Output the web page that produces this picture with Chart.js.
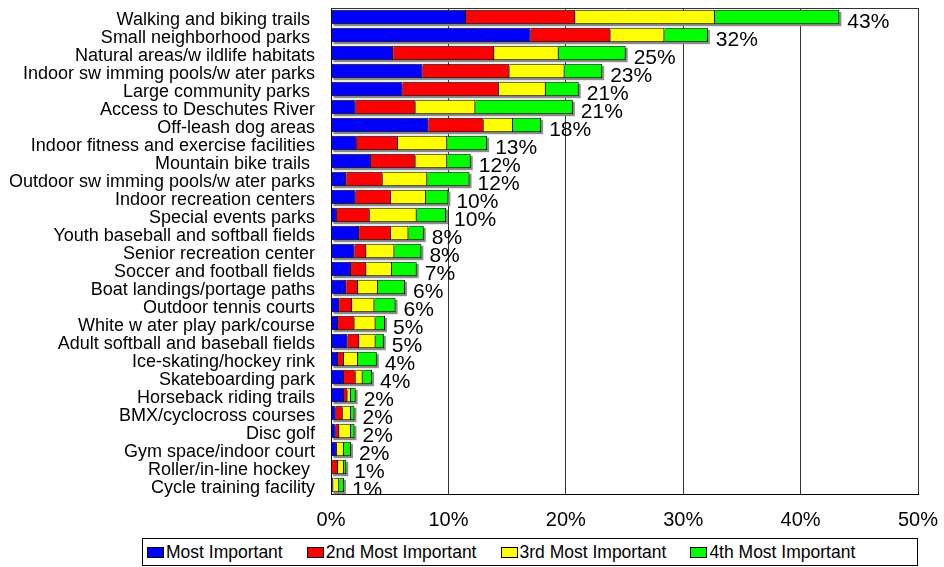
<!DOCTYPE html>
<html>
<head>
<meta charset="utf-8">
<title>Most important facilities</title>
<script src="https://cdn.jsdelivr.net/npm/chart.js@4.4.1/dist/chart.umd.min.js"></script>
<style>
    body { margin: 0; background: #fff; }
    #wrap { position: relative; width: 944px; height: 567px; }
    #legend {
        position: absolute; left: 142px; top: 538px; width: 776px; height: 28px;
        box-sizing: border-box; border: 1px solid #000; background: #fff;
        display: flex; align-items: center; padding-left: 4px;
        font-family: 'Liberation Sans', Arial, sans-serif; font-size: 17.5px; color: #000;
    }
    #legend .item { display: flex; align-items: center; margin-right: 24px; }
    #legend .sw { width: 15px; height: 9px; border: 1px solid #000; margin-right: 2px; }
</style>
</head>
<body>
<div id="wrap">
    <canvas id="chart" width="944" height="567"></canvas>
    <div id="legend"></div>
</div>
<script>
// categories, top to bottom
const categories = [
    'Walking and biking trails ',
    'Small neighborhood parks ',
    'Natural areas/w ildlife habitats',
    'Indoor sw imming pools/w ater parks',
    'Large community parks ',
    'Access to Deschutes River',
    'Off-leash dog areas',
    'Indoor fitness and exercise facilities',
    'Mountain bike trails ',
    'Outdoor sw imming pools/w ater parks',
    'Indoor recreation centers',
    'Special events parks',
    'Youth baseball and softball fields',
    'Senior recreation center',
    'Soccer and football fields',
    'Boat landings/portage paths',
    'Outdoor tennis courts',
    'White w ater play park/course',
    'Adult softball and baseball fields',
    'Ice-skating/hockey rink',
    'Skateboarding park',
    'Horseback riding trails',
    'BMX/cyclocross courses',
    'Disc golf',
    'Gym space/indoor court',
    'Roller/in-line hockey ',
    'Cycle training facility'
];

// percent of respondents
const mostImportant   = [11.5, 17.0, 5.3, 7.8, 6.1, 2.1, 8.3, 2.2, 3.4, 1.3, 2.1, 0.5, 2.4, 2.0, 1.7, 1.3, 0.7, 0.6, 1.4, 0.6, 1.1, 1.1, 0.4, 0.4, 0.5, 0.0, 0.2];
const secondImportant = [9.3, 6.8, 8.6, 7.4, 8.2, 5.1, 4.7, 3.5, 3.8, 3.1, 3.0, 2.8, 2.7, 1.0, 1.3, 1.0, 1.1, 1.4, 1.0, 0.5, 1.0, 0.3, 0.6, 0.3, 0.0, 0.6, 0.0];
const thirdImportant  = [11.9, 4.6, 5.5, 4.7, 4.0, 5.1, 2.5, 4.2, 2.7, 3.8, 3.0, 4.0, 1.5, 2.4, 2.2, 1.7, 1.9, 1.8, 1.4, 1.2, 0.6, 0.3, 0.7, 1.0, 0.6, 0.5, 0.5];
const fourthImportant = [10.6, 3.7, 5.7, 3.2, 2.8, 8.3, 2.4, 3.4, 2.0, 3.6, 1.9, 2.5, 1.3, 2.3, 2.1, 2.3, 1.8, 0.8, 0.7, 1.6, 0.8, 0.4, 0.3, 0.3, 0.6, 0.2, 0.4];

// total labels printed at the end of each bar
const totals = [43, 32, 25, 23, 21, 21, 18, 13, 12, 12, 10, 10, 8, 8, 7, 6, 6, 5, 5, 4, 4, 2, 2, 2, 2, 1, 1];

const xTicks = [0, 10, 20, 30, 40, 50];

const seriesNames = ['Most Important', '2nd Most Important', '3rd Most Important', '4th Most Important'];
const seriesColors = ['#0000ff', '#ff0000', '#ffff00', '#00ff00'];
const seriesData = [mostImportant, secondImportant, thirdImportant, fourthImportant];

const FONT = "'Liberation Sans', Arial, sans-serif";

// gray drop shadow behind each stacked bar
const shadowPlugin = {
    id: 'shadow',
    beforeDatasetsDraw(chart) {
        const ctx = chart.ctx;
        const first = chart.getDatasetMeta(0).data;
        const last = chart.getDatasetMeta(chart.data.datasets.length - 1).data;
        ctx.save();
        ctx.fillStyle = '#8c8c8c';
        first.forEach((bar, i) => {
            const a = bar.getProps(['base', 'y', 'height'], true);
            const b = last[i].getProps(['x'], true);
            ctx.fillRect(a.base + 2, a.y - a.height / 2 + 2, b.x - a.base, a.height);
        });
        ctx.restore();
    }
};

// totals text + box around the plot
const labelPlugin = {
    id: 'totals',
    afterDatasetsDraw(chart) {
        const ctx = chart.ctx;
        const area = chart.chartArea;
        const last = chart.getDatasetMeta(chart.data.datasets.length - 1).data;
        ctx.save();
        ctx.beginPath();
        ctx.rect(area.left, area.top, area.right - area.left, area.bottom - area.top);
        ctx.clip();
        ctx.fillStyle = '#000';
        ctx.font = '21px ' + FONT;
        ctx.textAlign = 'left';
        ctx.textBaseline = 'middle';
        last.forEach((bar, i) => {
            const p = bar.getProps(['x', 'y'], true);
            ctx.fillText(totals[i] + '%', p.x + 8, p.y + 5);
        });
        ctx.restore();

        ctx.save();
        ctx.strokeStyle = '#333';
        ctx.lineWidth = 1;
        ctx.beginPath();
        ctx.moveTo(area.left, Math.round(area.top) + 0.5);
        ctx.lineTo(Math.round(area.right) + 0.5, Math.round(area.top) + 0.5);
        ctx.lineTo(Math.round(area.right) + 0.5, area.bottom);
        ctx.stroke();
        ctx.restore();
    }
};

new Chart(document.getElementById('chart'), {
    type: 'bar',
    data: {
        labels: categories,
        datasets: seriesData.map((d, i) => ({
            label: seriesNames[i],
            data: d,
            backgroundColor: seriesColors[i],
            borderColor: '#000',
            borderWidth: 1,
            barPercentage: 0.8,
            categoryPercentage: 1.0
        }))
    },
    options: {
        indexAxis: 'y',
        responsive: false,
        devicePixelRatio: 1,
        animation: false,
        layout: { padding: { top: 8, right: 26, bottom: 33, left: 0 } },
        plugins: {
            legend: { display: false },
            tooltip: { enabled: false }
        },
        scales: {
            x: {
                stacked: true,
                min: 0,
                max: 50,
                afterBuildTicks: axis => { axis.ticks = xTicks.map(v => ({ value: v })); },
                afterFit: axis => {
                    axis.height = 40;
                    axis.paddingLeft = 0;
                    axis.paddingRight = 0;
                },
                ticks: {
                    callback: v => v + '%',
                    color: '#000',
                    font: { family: FONT, size: 20 },
                    padding: 14
                },
                grid: { color: '#333', drawTicks: false },
                border: { color: '#000' }
            },
            y: {
                stacked: true,
                afterFit: axis => {
                    axis.width = 331;
                    axis.paddingTop = 0;
                    axis.paddingBottom = 0;
                },
                ticks: {
                    color: '#000',
                    font: { family: FONT, size: 18 },
                    padding: 16,
                    labelOffset: 3,
                    autoSkip: false
                },
                grid: { display: false, drawTicks: false },
                border: { color: '#000' }
            }
        }
    },
    plugins: [shadowPlugin, labelPlugin]
});

// legend below the plot
const legend = document.getElementById('legend');
seriesNames.forEach((name, i) => {
    const item = document.createElement('span');
    item.className = 'item';
    const sw = document.createElement('span');
    sw.className = 'sw';
    sw.style.background = seriesColors[i];
    item.appendChild(sw);
    item.appendChild(document.createTextNode(name));
    legend.appendChild(item);
});
</script>
</body>
</html>
